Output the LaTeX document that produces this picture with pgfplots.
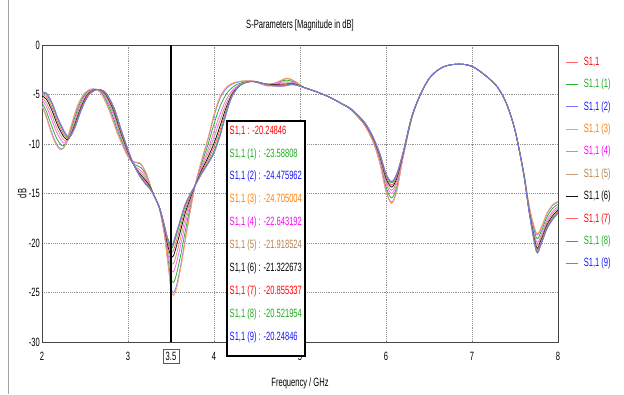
\documentclass[border=0pt]{standalone}
\usepackage{pgfplots}
\pgfplotsset{compat=1.18}
\usepackage{fontspec}
\setmainfont{Liberation Sans}[FakeStretch=0.63]
\newcommand\cf{\fontsize{9}{10}\selectfont}
\definecolor{tRed}{RGB}{255,0,0}
\definecolor{tGreen}{RGB}{30,170,30}
\definecolor{tBlue}{RGB}{20,20,255}
\definecolor{tOrange}{RGB}{255,128,0}
\definecolor{tMag}{RGB}{255,0,255}
\definecolor{tTan}{RGB}{180,130,80}
\definecolor{tBlack}{RGB}{0,0,0}
\definecolor{lRed}{RGB}{255,100,100}
\definecolor{lGreen}{RGB}{40,180,40}
\definecolor{lBlue}{RGB}{120,120,255}
\definecolor{lOrange}{RGB}{255,160,90}
\definecolor{lMag}{RGB}{255,100,255}
\definecolor{lTan}{RGB}{200,160,120}
\definecolor{lBlack}{RGB}{20,20,20}
\begin{document}
\begin{tikzpicture}
\useasboundingbox[fill=white] (-31.5pt,-39pt) rectangle (436.5pt,256.5pt);
\draw[gray!70, line width=0.6pt] (-25.5pt,-39pt) -- (-25.5pt,256.5pt);
\begin{axis}[
  at={(0pt,0pt)}, anchor=south west,
  scale only axis, width=387pt, height=222.75pt,
  xmin=2, xmax=8, ymin=-30, ymax=0,
  xtick={2,3,4,5,6,7,8}, xticklabels={2,3,4,5,6,7,8},
  ytick={-30,-25,-20,-15,-10,-5,0}, yticklabels={-30,-25,-20,-15,-10,-5,0},
  grid=major, major grid style={densely dotted, gray!85, line width=0.5pt},
  axis line style={gray!55!black, line width=0.6pt},
  major tick length=0pt,
  tick label style={font=\cf},
  xticklabel style={yshift=-4pt},
  yticklabel style={inner sep=1.5pt},
  extra x ticks={3.5}, extra x tick labels={3.5},
  extra x tick style={grid=none, major tick length=0pt,
     tick label style={draw=gray!70!black, line width=0.5pt, inner sep=2pt, yshift=-1pt}},
  legend style={at={(rel axis cs:1,1)}, anchor=north west, xshift=6pt, yshift=-8.75pt,
     draw=none, fill=none, inner sep=0pt, outer sep=0pt, font=\cf,
     row sep=8.8pt, column sep=3.75pt,
     nodes={inner sep=0pt, text height=6.5pt, text depth=1.5pt}},
  legend cell align=left,
  legend image code/.code={\draw[#1, line width=0.6pt] (0pt,0pt) -- (9pt,0pt);},
  every axis plot/.append style={smooth, line width=0.6pt},
]
% S1,1
\addplot[lRed] coordinates {(2.00,-4.8)(2.05,-4.85)(2.12,-5.9)(2.19,-7.5)(2.27,-8.9)(2.32,-9.3)(2.38,-8.4)(2.46,-6.5)(2.54,-5.1)(2.64,-4.5)(2.74,-4.8)(2.84,-6.4)(2.93,-8.8)(3.04,-11.5)(3.12,-13.0)(3.19,-13.9)(3.26,-14.6)(3.32,-15.5)(3.37,-16.5)(3.42,-18.1)(3.46,-19.5)(3.50,-20.248)(3.525,-20.0)(3.54,-19.6)(3.60,-17.9)(3.66,-16.2)(3.72,-15.1)(3.78,-14.2)(3.85,-13.1)(3.93,-12.0)(4.00,-10.9)(4.07,-9.2)(4.14,-7.0)(4.21,-5.2)(4.30,-4.1)(4.42,-3.65)(4.52,-3.75)(4.65,-4.1)(4.80,-4.15)(4.92,-4.0)(5.05,-4.3)(5.2,-4.75)(5.35,-5.3)(5.5,-6.0)(5.60,-6.5)(5.75,-7.8)(5.85,-9.3)(5.93,-11.0)(6.00,-13.0)(6.065,-13.8)(6.125,-13.0)(6.20,-10.8)(6.30,-7.2)(6.4,-5.0)(6.5,-3.4)(6.6,-2.55)(6.7,-2.1)(6.8,-1.95)(6.9,-1.95)(7.0,-2.15)(7.1,-2.7)(7.2,-3.4)(7.3,-4.3)(7.4,-5.9)(7.5,-8.6)(7.60,-13.0)(7.67,-17.2)(7.75,-20.9)(7.80,-20.2)(7.87,-18.6)(7.94,-17.6)(8.00,-17.0)};
\addlegendentry{\textcolor{tRed}{S1,1}}
% (1) t=0.25
\addplot[lGreen] coordinates {(2.00,-5.85)(2.05,-6.69)(2.105,-8.0)(2.1675,-9.375)(2.2325,-10.175)(2.2825,-9.9)(2.3425,-8.4)(2.4225,-6.275)(2.5025,-4.95)(2.595,-4.46)(2.695,-4.8)(2.795,-6.55)(2.8925,-8.95)(3.01,-11.35)(3.0825,-12.1)(3.1525,-12.4)(3.2225,-13.325)(3.29,-14.975)(3.3625,-16.425)(3.42,-18.775)(3.4675,-21.75)(3.50,-23.588)(3.5288,-23.975)(3.5625,-23.2)(3.615,-21.125)(3.6675,-18.75)(3.72,-16.525)(3.78,-14.2)(3.85,-12.125)(3.93,-10.05)(4.00,-7.975)(4.07,-6.2)(4.1475,-4.9)(4.24,-4.1125)(4.36,-3.725)(4.48,-3.725)(4.6025,-4.05)(4.725,-3.8)(4.8375,-3.55)(4.9425,-3.775)(5.05,-4.3)(5.2,-4.75)(5.35,-5.3)(5.5,-6.0)(5.60,-6.575)(5.75,-8.025)(5.85,-9.675)(5.93,-11.75)(6.00,-14.35)(6.065,-15.45)(6.125,-14.35)(6.20,-11.175)(6.30,-7.35)(6.4,-5.0)(6.5,-3.4)(6.6,-2.55)(6.7,-2.1)(6.8,-1.95)(6.9,-1.95)(7.0,-2.15)(7.1,-2.7)(7.2,-3.4)(7.3,-4.3)(7.4,-5.9)(7.5,-8.6)(7.60,-12.85)(7.67,-16.675)(7.75,-19.475)(7.80,-18.925)(7.87,-17.4)(7.94,-16.475)(8.00,-16.1)};
\addlegendentry{\textcolor{tGreen}{S1,1 (1)}}
% (2) t=0.05
\addplot[lBlue] coordinates {(2.00,-6.13)(2.05,-7.18)(2.101,-8.56)(2.1615,-9.875)(2.2225,-10.515)(2.2725,-10.06)(2.3325,-8.4)(2.4125,-6.215)(2.4925,-4.91)(2.583,-4.45)(2.683,-4.8)(2.783,-6.59)(2.8825,-8.99)(3.002,-11.31)(3.0725,-11.86)(3.1425,-12.0)(3.2125,-12.985)(3.282,-14.835)(3.3605,-16.405)(3.42,-18.955)(3.4695,-22.35)(3.50,-24.476)(3.5298,-25.035)(3.5685,-24.16)(3.619,-21.985)(3.6695,-19.43)(3.72,-16.905)(3.78,-14.2)(3.85,-11.865)(3.93,-9.53)(4.00,-7.195)(4.07,-5.4)(4.1495,-4.34)(4.248,-3.8225)(4.376,-3.625)(4.496,-3.745)(4.6245,-4.13)(4.745,-3.72)(4.8475,-3.39)(4.9485,-3.715)(5.05,-4.3)(5.2,-4.75)(5.35,-5.3)(5.5,-6.0)(5.60,-6.595)(5.75,-8.085)(5.85,-9.775)(5.93,-11.95)(6.00,-14.71)(6.065,-15.89)(6.125,-14.71)(6.20,-11.275)(6.30,-7.39)(6.4,-5.0)(6.5,-3.4)(6.6,-2.55)(6.7,-2.1)(6.8,-1.95)(6.9,-1.95)(7.0,-2.15)(7.1,-2.7)(7.2,-3.4)(7.3,-4.3)(7.4,-5.9)(7.5,-8.6)(7.60,-12.81)(7.67,-16.535)(7.75,-19.095)(7.80,-18.585)(7.87,-17.08)(7.94,-16.175)(8.00,-15.86)};
\addlegendentry{\textcolor{tBlue}{S1,1 (2)}}
% (3) t=0
\addplot[lOrange] coordinates {(2.00,-6.2)(2.05,-7.3)(2.10,-8.7)(2.16,-10.0)(2.22,-10.6)(2.27,-10.1)(2.33,-8.4)(2.41,-6.2)(2.49,-4.9)(2.58,-4.45)(2.68,-4.8)(2.78,-6.6)(2.88,-9.0)(3.00,-11.3)(3.07,-11.8)(3.14,-11.9)(3.21,-12.9)(3.28,-14.8)(3.36,-16.4)(3.42,-19.0)(3.47,-22.5)(3.50,-24.705)(3.53,-25.3)(3.57,-24.4)(3.62,-22.2)(3.67,-19.6)(3.72,-17.0)(3.78,-14.2)(3.85,-11.8)(3.93,-9.4)(4.00,-7.0)(4.07,-5.2)(4.15,-4.2)(4.25,-3.75)(4.38,-3.6)(4.50,-3.75)(4.63,-4.15)(4.75,-3.7)(4.85,-3.35)(4.95,-3.7)(5.05,-4.3)(5.2,-4.75)(5.35,-5.3)(5.5,-6.0)(5.60,-6.6)(5.75,-8.1)(5.85,-9.8)(5.93,-12.0)(6.00,-14.8)(6.065,-16.0)(6.125,-14.8)(6.20,-11.3)(6.30,-7.4)(6.4,-5.0)(6.5,-3.4)(6.6,-2.55)(6.7,-2.1)(6.8,-1.95)(6.9,-1.95)(7.0,-2.15)(7.1,-2.7)(7.2,-3.4)(7.3,-4.3)(7.4,-5.9)(7.5,-8.6)(7.60,-12.8)(7.67,-16.5)(7.75,-19.0)(7.80,-18.5)(7.87,-17.0)(7.94,-16.1)(8.00,-15.8)};
\addlegendentry{\textcolor{tOrange}{S1,1 (3)}}
% (4) t=0.45
\addplot[lMag] coordinates {(2.00,-5.57)(2.05,-6.2)(2.109,-7.44)(2.1735,-8.875)(2.2425,-9.835)(2.2925,-9.74)(2.3525,-8.4)(2.4325,-6.335)(2.5125,-4.99)(2.607,-4.47)(2.707,-4.8)(2.807,-6.51)(2.9025,-8.91)(3.018,-11.39)(3.0925,-12.34)(3.1625,-12.8)(3.2325,-13.665)(3.298,-15.115)(3.3645,-16.445)(3.42,-18.595)(3.4655,-21.15)(3.50,-22.643)(3.5278,-22.915)(3.5565,-22.24)(3.611,-20.265)(3.6655,-18.07)(3.72,-16.145)(3.78,-14.2)(3.85,-12.385)(3.93,-10.57)(4.00,-8.755)(4.07,-7.0)(4.1455,-5.46)(4.232,-4.4025)(4.344,-3.825)(4.464,-3.705)(4.5805,-3.97)(4.705,-3.88)(4.8275,-3.71)(4.9365,-3.835)(5.05,-4.3)(5.2,-4.75)(5.35,-5.3)(5.5,-6.0)(5.60,-6.555)(5.75,-7.965)(5.85,-9.575)(5.93,-11.55)(6.00,-13.99)(6.065,-15.01)(6.125,-13.99)(6.20,-11.075)(6.30,-7.31)(6.4,-5.0)(6.5,-3.4)(6.6,-2.55)(6.7,-2.1)(6.8,-1.95)(6.9,-1.95)(7.0,-2.15)(7.1,-2.7)(7.2,-3.4)(7.3,-4.3)(7.4,-5.9)(7.5,-8.6)(7.60,-12.89)(7.67,-16.815)(7.75,-19.855)(7.80,-19.265)(7.87,-17.72)(7.94,-16.775)(8.00,-16.34)};
\addlegendentry{\textcolor{tMag}{S1,1 (4)}}
% (5) t=0.6
\addplot[lTan] coordinates {(2.00,-5.36)(2.05,-5.83)(2.112,-7.02)(2.178,-8.5)(2.25,-9.58)(2.30,-9.62)(2.36,-8.4)(2.44,-6.38)(2.52,-5.02)(2.616,-4.48)(2.716,-4.8)(2.816,-6.48)(2.91,-8.88)(3.024,-11.42)(3.10,-12.52)(3.17,-13.1)(3.24,-13.92)(3.304,-15.22)(3.366,-16.46)(3.42,-18.46)(3.464,-20.7)(3.50,-21.919)(3.527,-22.12)(3.552,-21.52)(3.608,-19.62)(3.664,-17.56)(3.72,-15.86)(3.78,-14.2)(3.85,-12.58)(3.93,-10.96)(4.00,-9.34)(4.07,-7.6)(4.144,-5.88)(4.226,-4.62)(4.332,-3.9)(4.452,-3.69)(4.564,-3.91)(4.69,-3.94)(4.82,-3.83)(4.932,-3.88)(5.05,-4.3)(5.2,-4.75)(5.35,-5.3)(5.5,-6.0)(5.60,-6.54)(5.75,-7.92)(5.85,-9.5)(5.93,-11.4)(6.00,-13.72)(6.065,-14.68)(6.125,-13.72)(6.20,-11.0)(6.30,-7.28)(6.4,-5.0)(6.5,-3.4)(6.6,-2.55)(6.7,-2.1)(6.8,-1.95)(6.9,-1.95)(7.0,-2.15)(7.1,-2.7)(7.2,-3.4)(7.3,-4.3)(7.4,-5.9)(7.5,-8.6)(7.60,-12.92)(7.67,-16.92)(7.75,-20.14)(7.80,-19.52)(7.87,-17.96)(7.94,-17.0)(8.00,-16.52)};
\addlegendentry{\textcolor{tTan}{S1,1 (5)}}
% (6) t=0.75
\addplot[lBlack] coordinates {(2.00,-5.15)(2.05,-5.46)(2.115,-6.6)(2.1825,-8.125)(2.2575,-9.325)(2.3075,-9.5)(2.3675,-8.4)(2.4475,-6.425)(2.5275,-5.05)(2.625,-4.49)(2.725,-4.8)(2.825,-6.45)(2.9175,-8.85)(3.03,-11.45)(3.1075,-12.7)(3.1775,-13.4)(3.2475,-14.175)(3.31,-15.325)(3.3675,-16.475)(3.42,-18.325)(3.4625,-20.25)(3.50,-21.323)(3.5263,-21.325)(3.5475,-20.8)(3.605,-18.975)(3.6625,-17.05)(3.72,-15.575)(3.78,-14.2)(3.85,-12.775)(3.93,-11.35)(4.00,-9.925)(4.07,-8.2)(4.1425,-6.3)(4.22,-4.8375)(4.32,-3.975)(4.44,-3.675)(4.5475,-3.85)(4.675,-4.0)(4.8125,-3.95)(4.9275,-3.925)(5.05,-4.3)(5.2,-4.75)(5.35,-5.3)(5.5,-6.0)(5.60,-6.525)(5.75,-7.875)(5.85,-9.425)(5.93,-11.25)(6.00,-13.45)(6.065,-14.35)(6.125,-13.45)(6.20,-10.925)(6.30,-7.25)(6.4,-5.0)(6.5,-3.4)(6.6,-2.55)(6.7,-2.1)(6.8,-1.95)(6.9,-1.95)(7.0,-2.15)(7.1,-2.7)(7.2,-3.4)(7.3,-4.3)(7.4,-5.9)(7.5,-8.6)(7.60,-12.95)(7.67,-17.025)(7.75,-20.425)(7.80,-19.775)(7.87,-18.2)(7.94,-17.225)(8.00,-16.7)};
\addlegendentry{\textcolor{tBlack}{S1,1 (6)}}
% (7) t=0.85
\addplot[lRed] coordinates {(2.00,-5.01)(2.05,-5.22)(2.117,-6.32)(2.1855,-7.875)(2.2625,-9.155)(2.3125,-9.42)(2.3725,-8.4)(2.4525,-6.455)(2.5325,-5.07)(2.631,-4.49)(2.731,-4.8)(2.831,-6.43)(2.9225,-8.83)(3.034,-11.47)(3.1125,-12.82)(3.1825,-13.6)(3.2525,-14.345)(3.314,-15.395)(3.3685,-16.485)(3.42,-18.235)(3.4615,-19.95)(3.50,-20.855)(3.5258,-20.795)(3.5445,-20.32)(3.603,-18.545)(3.6615,-16.71)(3.72,-15.385)(3.78,-14.2)(3.85,-12.905)(3.93,-11.61)(4.00,-10.315)(4.07,-8.6)(4.1415,-6.58)(4.216,-4.9825)(4.312,-4.025)(4.432,-3.665)(4.5365,-3.81)(4.665,-4.04)(4.8075,-4.03)(4.9245,-3.955)(5.05,-4.3)(5.2,-4.75)(5.35,-5.3)(5.5,-6.0)(5.60,-6.515)(5.75,-7.845)(5.85,-9.375)(5.93,-11.15)(6.00,-13.27)(6.065,-14.13)(6.125,-13.27)(6.20,-10.875)(6.30,-7.23)(6.4,-5.0)(6.5,-3.4)(6.6,-2.55)(6.7,-2.1)(6.8,-1.95)(6.9,-1.95)(7.0,-2.15)(7.1,-2.7)(7.2,-3.4)(7.3,-4.3)(7.4,-5.9)(7.5,-8.6)(7.60,-12.97)(7.67,-17.095)(7.75,-20.615)(7.80,-19.945)(7.87,-18.36)(7.94,-17.375)(8.00,-16.82)};
\addlegendentry{\textcolor{tRed}{S1,1 (7)}}
% (8) t=0.95
\addplot[lGreen] coordinates {(2.00,-4.87)(2.05,-4.97)(2.119,-6.04)(2.1885,-7.625)(2.2675,-8.985)(2.3175,-9.34)(2.3775,-8.4)(2.4575,-6.485)(2.5375,-5.09)(2.637,-4.5)(2.737,-4.8)(2.837,-6.41)(2.9275,-8.81)(3.038,-11.49)(3.1175,-12.94)(3.1875,-13.8)(3.2575,-14.515)(3.318,-15.465)(3.3695,-16.495)(3.42,-18.145)(3.4605,-19.65)(3.50,-20.522)(3.5253,-20.265)(3.5415,-19.84)(3.601,-18.115)(3.6605,-16.37)(3.72,-15.195)(3.78,-14.2)(3.85,-13.035)(3.93,-11.87)(4.00,-10.705)(4.07,-9.0)(4.1405,-6.86)(4.212,-5.1275)(4.304,-4.075)(4.424,-3.655)(4.5255,-3.77)(4.655,-4.08)(4.8025,-4.11)(4.9215,-3.985)(5.05,-4.3)(5.2,-4.75)(5.35,-5.3)(5.5,-6.0)(5.60,-6.505)(5.75,-7.815)(5.85,-9.325)(5.93,-11.05)(6.00,-13.09)(6.065,-13.91)(6.125,-13.09)(6.20,-10.825)(6.30,-7.21)(6.4,-5.0)(6.5,-3.4)(6.6,-2.55)(6.7,-2.1)(6.8,-1.95)(6.9,-1.95)(7.0,-2.15)(7.1,-2.7)(7.2,-3.4)(7.3,-4.3)(7.4,-5.9)(7.5,-8.6)(7.60,-12.99)(7.67,-17.165)(7.75,-20.805)(7.80,-20.115)(7.87,-18.52)(7.94,-17.525)(8.00,-16.94)};
\addlegendentry{\textcolor{tGreen}{S1,1 (8)}}
% (9) t=1
\addplot[lBlue] coordinates {(2.00,-4.8)(2.05,-4.85)(2.12,-5.9)(2.19,-7.5)(2.27,-8.9)(2.32,-9.3)(2.38,-8.4)(2.46,-6.5)(2.54,-5.1)(2.64,-4.5)(2.74,-4.8)(2.84,-6.4)(2.93,-8.8)(3.04,-11.5)(3.12,-13.0)(3.19,-13.9)(3.26,-14.6)(3.32,-15.5)(3.37,-16.5)(3.42,-18.1)(3.46,-19.5)(3.50,-20.248)(3.525,-20.0)(3.54,-19.6)(3.60,-17.9)(3.66,-16.2)(3.72,-15.1)(3.78,-14.2)(3.85,-13.1)(3.93,-12.0)(4.00,-10.9)(4.07,-9.2)(4.14,-7.0)(4.21,-5.2)(4.30,-4.1)(4.42,-3.65)(4.52,-3.75)(4.65,-4.1)(4.80,-4.15)(4.92,-4.0)(5.05,-4.3)(5.2,-4.75)(5.35,-5.3)(5.5,-6.0)(5.60,-6.5)(5.75,-7.8)(5.85,-9.3)(5.93,-11.0)(6.00,-13.0)(6.065,-13.8)(6.125,-13.0)(6.20,-10.8)(6.30,-7.2)(6.4,-5.0)(6.5,-3.4)(6.6,-2.55)(6.7,-2.1)(6.8,-1.95)(6.9,-1.95)(7.0,-2.15)(7.1,-2.7)(7.2,-3.4)(7.3,-4.3)(7.4,-5.9)(7.5,-8.6)(7.60,-13.0)(7.67,-17.2)(7.75,-20.9)(7.80,-20.2)(7.87,-18.6)(7.94,-17.6)(8.00,-17.0)};
\addlegendentry{\textcolor{tBlue}{S1,1 (9)}}
% marker line
\addplot[black, line width=0.9pt, sharp plot, forget plot] coordinates {(3.5,0)(3.5,-30)};
\end{axis}
% value box
\fill[white] (138.75pt,-10.5pt) rectangle (197.25pt,165.75pt);
\draw[black, line width=0.8pt] (138.75pt,-10.5pt) rectangle (197.25pt,165.75pt);
\draw[black, line width=1.6pt] (197.25pt,165.75pt) -- (197.25pt,-10.5pt) -- (138.75pt,-10.5pt);
\begin{scope}[every node/.style={anchor=west, inner sep=0pt, font=\cf}]
\node[text=tRed]    at (140.6pt,158.25pt) {S1,1 : -20.24846};
\node[text=tGreen]  at (140.6pt,141.08pt) {S1,1 (1) : -23.58808};
\node[text=tBlue]   at (140.6pt,123.91pt) {S1,1 (2) : -24.475962};
\node[text=tOrange] at (140.6pt,106.74pt) {S1,1 (3) : -24.705004};
\node[text=tMag]    at (140.6pt,89.57pt) {S1,1 (4) : -22.643192};
\node[text=tTan]    at (140.6pt,72.40pt) {S1,1 (5) : -21.918524};
\node[text=tBlack]  at (140.6pt,55.23pt) {S1,1 (6) : -21.322673};
\node[text=tRed]    at (140.6pt,38.06pt) {S1,1 (7) : -20.855337};
\node[text=tGreen]  at (140.6pt,20.89pt) {S1,1 (8) : -20.521954};
\node[text=tBlue]   at (140.6pt,3.72pt) {S1,1 (9) : -20.24846};
\end{scope}
% titles
\node[font=\cf] at (193.5pt,237.75pt) {S-Parameters [Magnitude in dB]};
\node[font=\cf] at (193.5pt,-30.75pt) {Frequency / GHz};
\node[font=\cf, rotate=90] at (-15pt,111.4pt) {dB};
\end{tikzpicture}
\end{document}
